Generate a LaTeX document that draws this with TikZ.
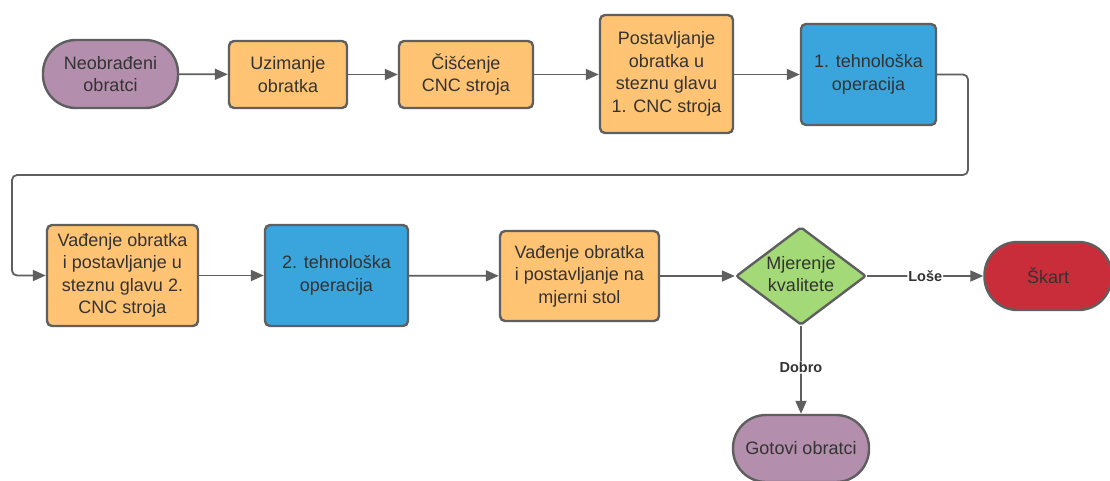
\documentclass[tikz,border=0pt]{standalone}
\usepackage{fontspec}
\setmainfont{Liberation Sans}
\usetikzlibrary{shapes.geometric,arrows.meta}
\definecolor{bordc}{HTML}{5F5F5F}
\definecolor{txtc}{HTML}{333333}
\definecolor{purp}{HTML}{B48EAD}
\definecolor{orng}{HTML}{FFC374}
\definecolor{blu}{HTML}{3AA5DC}
\definecolor{grn}{HTML}{A3D977}
\definecolor{rd}{HTML}{C92D39}
\begin{document}
\begin{tikzpicture}[x=1pt,y=-1pt,
  base/.style={draw=bordc,line width=2.4pt,text=txtc,align=center,inner sep=0pt,
    font=\fontsize{18}{22.5}\selectfont},
  stadium/.style={base,rectangle,rounded corners=33pt},
  proc/.style={base,rectangle,rounded corners=5pt},
  dia/.style={base,diamond,fill=grn,rounded corners=2pt},
  conn/.style={draw=bordc,line width=1.8pt,-{Triangle[length=13pt,width=11pt]},rounded corners=5pt},
  lbl/.style={fill=white,text=txtc,inner sep=1pt,font=\bfseries\fontsize{14.5}{16}\selectfont}]
\useasboundingbox (0,0) rectangle (1110,480);
\fill[white] (0,0) rectangle (1110,480);
\node[stadium,fill=purp,minimum width=135pt,minimum height=68pt] (n1) at (110.5,74) {Neobrađeni\\obratci};
\node[proc,fill=orng,minimum width=118pt,minimum height=67pt] (n2) at (288,74.5) {Uzimanje\\obratka};
\node[proc,fill=orng,minimum width=134pt,minimum height=67pt] (n3) at (466,74.5) {Čišćenje\\CNC stroja};
\node[proc,fill=orng,minimum width=133pt,minimum height=118pt] (n4) at (666.5,74) {Postavljanje\\obratka u\\steznu glavu\\1. CNC stroja};
\node[proc,fill=blu,minimum width=135pt,minimum height=101pt] (n5) at (868.5,74.5) {1. tehnološka\\operacija};
\node[proc,fill=orng,minimum width=151pt,minimum height=101pt] (n6) at (122.5,275.5) {Vađenje obratka\\i postavljanje u\\steznu glavu 2.\\CNC stroja};
\node[proc,fill=blu,minimum width=143pt,minimum height=101pt] (n7) at (336.5,275.5) {2. tehnološka\\operacija};
\node[proc,fill=orng,minimum width=159pt,minimum height=90pt] (n8) at (579.5,276) {Vađenje obratka\\i postavljanje na\\mjerni stol};
\node[dia,minimum width=130pt,minimum height=98pt] (d) at (801,276) {};
\node[text=txtc,align=center,inner sep=0pt,font=\fontsize{18}{22.5}\selectfont] (dt) at (801,274) {Mjerenje\\kvalitete};
\node[stadium,fill=rd,minimum width=127pt,minimum height=68pt] (sk) at (1048,276) {Škart};
\node[stadium,fill=purp,minimum width=136pt,minimum height=67pt] (g) at (801,448.5) {Gotovi obratci};
\coordinate (c1) at (968,74.5);
\coordinate (c2) at (968,175);
\coordinate (c3) at (12,175);
\coordinate (c4) at (12,275.5);
\draw[conn] (n1) -- (n2);
\draw[conn] (n2) -- (n3);
\draw[conn] (n3) -- (n3 -| n4.west);
\draw[conn] (n4.east |- n5) -- (n5);
\draw[conn] (n5.east) -- (c1) -- (c2) -- (c3) -- (c4) -- (n6.west);
\draw[conn] (n6) -- (n7);
\draw[conn] (n7) -- (n8);
\draw[conn] (n8) -- (d);
\draw[conn] (d.east) -- node[lbl,pos=0.5] {Loše} (sk.west);
\draw[conn] (d.south) -- node[lbl,pos=0.47] {Dobro} (g.north);
\end{tikzpicture}
\end{document}
